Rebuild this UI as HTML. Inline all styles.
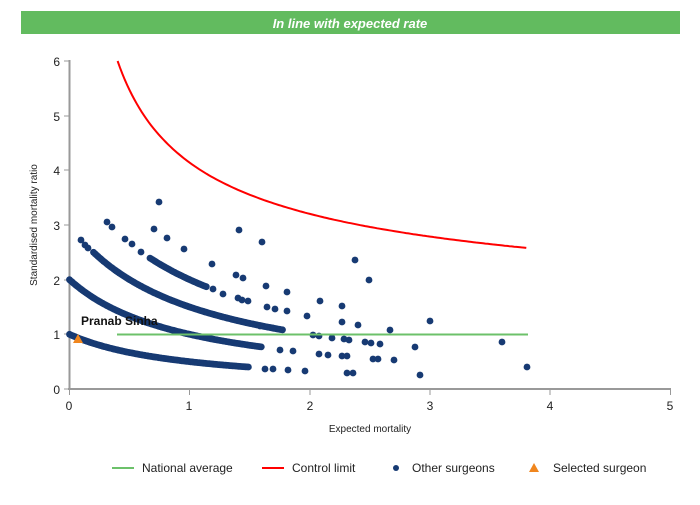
<!DOCTYPE html>
<html><head><meta charset="utf-8"><style>
body{margin:0;background:#fff;width:700px;height:500px;overflow:hidden;font-family:"Liberation Sans",sans-serif}
</style></head><body>
<svg id="s" width="700" height="500" xmlns="http://www.w3.org/2000/svg" font-family="Liberation Sans, sans-serif">
<rect x="21" y="11" width="659" height="23" fill="#62bb5f"/>
<text x="350" y="28" text-anchor="middle" fill="#fff" font-size="13" font-weight="bold" font-style="italic">In line with expected rate</text>
<g stroke="#999" stroke-width="2" fill="none">
<line x1="69.5" y1="60" x2="69.5" y2="390"/>
<line x1="68" y1="389" x2="671" y2="389"/>
</g>
<g stroke="#999" stroke-width="1">
<line x1="64" y1="61" x2="69" y2="61"/><line x1="64" y1="116" x2="69" y2="116"/><line x1="64" y1="170" x2="69" y2="170"/><line x1="64" y1="225" x2="69" y2="225"/><line x1="64" y1="280" x2="69" y2="280"/><line x1="64" y1="334" x2="69" y2="334"/><line x1="64" y1="389" x2="69" y2="389"/>
<line x1="69.5" y1="389" x2="69.5" y2="395"/><line x1="189.5" y1="389" x2="189.5" y2="395"/><line x1="310" y1="389" x2="310" y2="395"/><line x1="430" y1="389" x2="430" y2="395"/><line x1="550" y1="389" x2="550" y2="395"/><line x1="670.5" y1="389" x2="670.5" y2="395"/>
</g>
<g font-size="12" fill="#222" text-anchor="end">
<text x="60" y="66">6</text><text x="60" y="121">5</text><text x="60" y="175">4</text><text x="60" y="230">3</text><text x="60" y="285">2</text><text x="60" y="339">1</text><text x="60" y="394">0</text>
</g>
<g font-size="12" fill="#222" text-anchor="middle">
<text x="69" y="410">0</text><text x="189" y="410">1</text><text x="310" y="410">2</text><text x="430" y="410">3</text><text x="550" y="410">4</text><text x="670" y="410">5</text>
</g>
<text x="370" y="432" font-size="10" fill="#222" text-anchor="middle">Expected mortality</text>
<text transform="translate(37,225) rotate(-90)" font-size="10" fill="#222" text-anchor="middle">Standardised mortality ratio</text>
<g id="dots" fill="#173a73"></g>
<line x1="117" y1="334.5" x2="528" y2="334.5" stroke="#6cc16a" stroke-width="2"/>
<path id="red" fill="none" stroke="#f00" stroke-width="2"/>
<text x="81" y="325" font-size="12" font-weight="bold" fill="#111">Pranab Sinha</text>
<polygon points="78,334 73,343 83,343" fill="#f0861e"/>
<line x1="112" y1="468" x2="134" y2="468" stroke="#6cc16a" stroke-width="2"/>
<text x="142" y="472" font-size="12" fill="#222">National average</text>
<line x1="262" y1="468" x2="284" y2="468" stroke="#f00" stroke-width="2"/>
<text x="292" y="472" font-size="12" fill="#222">Control limit</text>
<circle cx="396" cy="468" r="3" fill="#173a73"/>
<text x="412" y="472" font-size="12" fill="#222">Other surgeons</text>
<polygon points="534,463 529,472 539,472" fill="#f0861e"/>
<text x="553" y="472" font-size="12" fill="#222">Selected surgeon</text>
</svg>
<script>
var X=function(e){return 69.5+e*120.2},Y=function(v){return 389-v*54.67};
var h='';
function d(x,y){h+='<circle cx="'+x.toFixed(1)+'" cy="'+y.toFixed(1)+'" r="3.4"/>';}
function band(o,e0,e1){for(var e=e0;e<=e1;e+=0.012){d(X(e),Y((o+1)/(e+1)));}}
band(0,0,1.5);band(1,0,1.6);band(2,0.2,1.78);band(3,0.67,1.14);
[[81,240],[85,245],[88,248],[159,202],[107,222],[112,227],[154,229],[167,238],[239,230],[262,242],[125,239],[132,244],[141,252],[184,249],[213,289],[223,294],[212,264],[236,275],[243,278],[266,286],[287,292],[238,298],[242,300],[248,301],[267,307],[275,309],[287,311],[260,326],[273,328],[280,350],[293,351],[265,369],[273,369],[288,370],[305,371],[355,260],[369,280],[307,316],[320,301],[342,306],[342,322],[358,325],[390,330],[430,321],[313,335],[319,336],[332,338],[344,339],[349,340],[365,342],[371,343],[380,344],[415,347],[319,354],[328,355],[342,356],[347,356],[373,359],[378,359],[394,360],[347,373],[353,373],[420,375],[502,342],[527,367]].forEach(function(p){d(p[0],p[1]);});
document.getElementById('dots').innerHTML=h;
var p='';for(var e=0.4;e<=3.82;e+=0.02){var v=0.94+3.2/Math.sqrt(e);p+=(p?'L':'M')+X(e).toFixed(1)+','+Y(v).toFixed(1);}
document.getElementById('red').setAttribute('d',p);
</script>
</body></html>
